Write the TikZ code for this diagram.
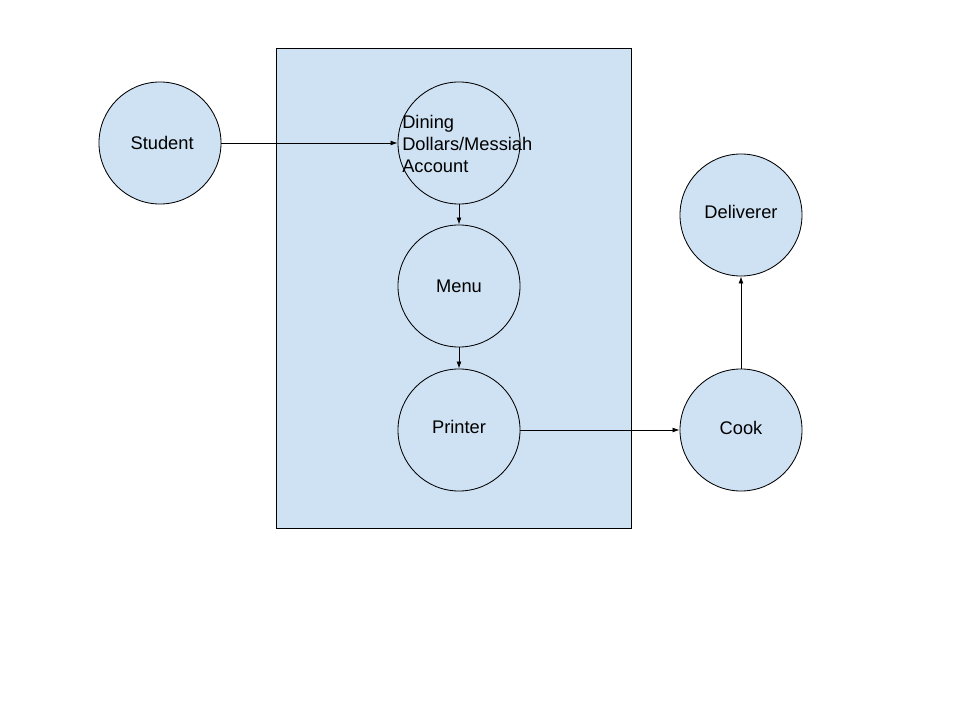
\documentclass[tikz,border=0pt]{standalone}
\usepackage{fontspec}
\setmainfont{Liberation Sans}
\usepackage{xcolor}
\usepackage{tikz}
\usetikzlibrary{shapes,arrows,positioning,calc,arrows.meta}
\definecolor{boxblue}{HTML}{CFE2F3}

\begin{document}
\begin{tikzpicture}[x=0.025cm, y=-0.025cm, font=\fontsize{13}{15.6}\selectfont,
        bubble/.style={circle, draw, fill=boxblue, line width=0.6pt, minimum size=3.05cm, inner sep=0pt},
        flow/.style={-{Latex[length=5pt,width=3.5pt]}, line width=0.6pt}]
        \useasboundingbox (0,0) rectangle (960,720);

        % System boundary
        \node [draw, fill=boxblue, line width=0.6pt, minimum width=8.875cm, minimum height=12cm, inner sep=0pt, anchor=north west] (system) at (276,48) {};

        % Outside actors
        \node [bubble] (student) at (160,143) {\hspace{3pt}Student};
        \node [bubble] (cook) at (741,430) {\raisebox{3pt}{Cook}};
        \node [bubble] (deliverer) at (741,215) {\raisebox{4pt}{Deliverer}};

        % Inside the system
        \node [bubble] (dining) at (459,143) {};
        \node [anchor=west, align=left, inner sep=0pt] (diningtext) at (402,144) {Dining\\Dollars/Messiah\\Account};
        \node [bubble] (menu) at (459,286) {Menu};
        \node [bubble] (printer) at (459,430) {\raisebox{5pt}{Printer}};

        \draw [flow] (student.east) -- (dining.west);
        \draw [flow] (dining.south) -- (menu.north);
        \draw [flow] (menu.south) -- (printer.north);
        \draw [flow] (printer.east) -- (cook.west);
        \draw [flow] (cook.north) -- (deliverer.south);
    \end{tikzpicture}
\end{document}
